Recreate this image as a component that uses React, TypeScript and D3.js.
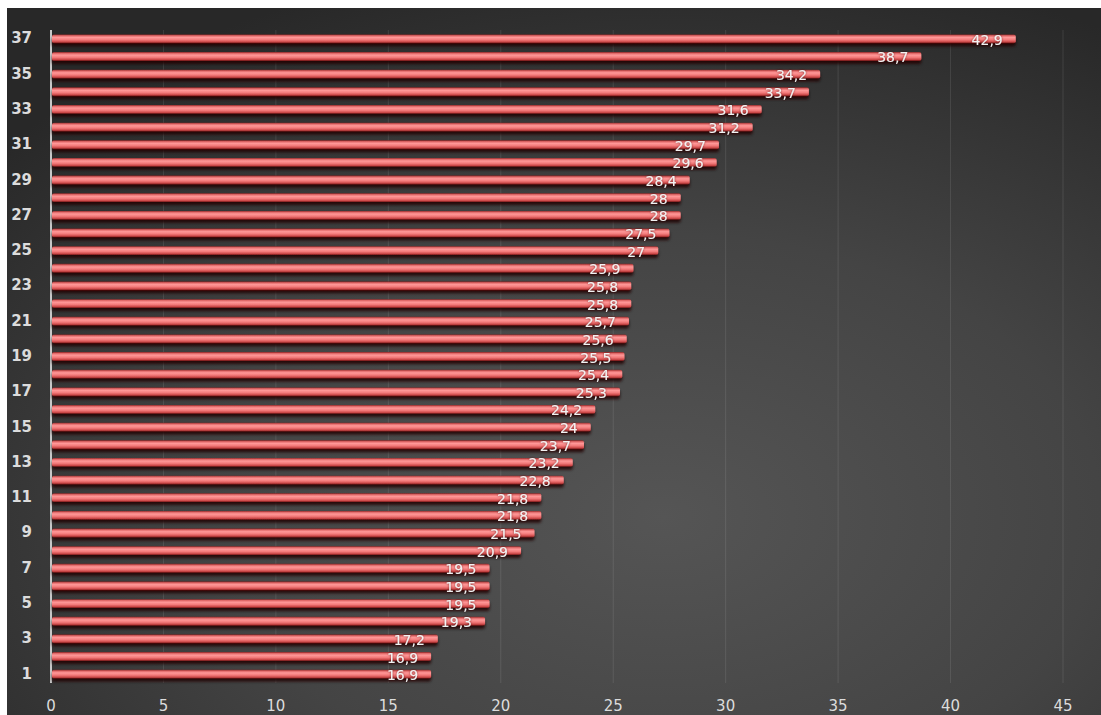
import React from "react";
import * as d3 from "d3";

const categories: number[] = d3.range(1, 38);
const values: number[] = [
  16.9, 16.9, 17.2, 19.3, 19.5, 19.5, 19.5, 20.9, 21.5, 21.8, 21.8, 22.8, 23.2,
  23.7, 24, 24.2, 25.3, 25.4, 25.5, 25.6, 25.7, 25.8, 25.8, 25.9, 27, 27.5, 28,
  28, 28.4, 29.6, 29.7, 31.2, 31.6, 33.7, 34.2, 38.7, 42.9,
];
const xTicks: number[] = [0, 5, 10, 15, 20, 25, 30, 35, 40, 45];
const yTickLabels: number[] = categories.filter((c) => c % 2 === 1);

const W = 1101;
const H = 715;
const frame = { x: 7, y: 8 };
const plot = { left: 51, right: 1063, top: 30, bottom: 683 };

export default function App() {
  const x = d3.scaleLinear().domain([0, 45]).range([plot.left, plot.right]);
  const y = d3
    .scaleBand<number>()
    .domain(categories)
    .range([plot.bottom, plot.top])
    .paddingInner(0.5)
    .paddingOuter(0.25);
  const bh = y.bandwidth();
  const fmt = (v: number) => String(v).replace(".", ",");
  const data = categories.map((c, i) => ({ c, v: values[i] }));

  return (
    <svg
      width={W}
      height={H}
      style={{ position: "fixed", left: 0, top: 0, display: "block" }}
    >
      <defs>
        <radialGradient id="bg" cx="0.6" cy="0.72" r="0.8">
          <stop offset="0" stopColor="#555555" />
          <stop offset="0.5" stopColor="#444444" />
          <stop offset="1" stopColor="#282828" />
        </radialGradient>
        <linearGradient id="bar" x1="0" y1="0" x2="0" y2="1">
          <stop offset="0" stopColor="#8a2424" />
          <stop offset="0.15" stopColor="#e06868" />
          <stop offset="0.35" stopColor="#ff9898" />
          <stop offset="0.6" stopColor="#f47c7c" />
          <stop offset="0.85" stopColor="#cc4848" />
          <stop offset="1" stopColor="#6a1414" />
        </linearGradient>
        <filter id="shadow" x="-5%" y="-100%" width="110%" height="300%">
          <feDropShadow dx="0" dy="3" stdDeviation="1.6" floodColor="#1a0000" floodOpacity="0.85" />
        </filter>
        <filter id="txtshadow" x="-20%" y="-50%" width="140%" height="200%">
          <feDropShadow dx="0" dy="0" stdDeviation="1" floodColor="#400" floodOpacity="0.7" />
        </filter>
      </defs>
      <rect x={0} y={0} width={W} height={H} fill="#ffffff" />
      <rect x={frame.x} y={frame.y} width={W - frame.x} height={H - frame.y} fill="url(#bg)" />

      {xTicks
        .filter((t) => t > 0)
        .map((t) => (
          <line
            key={"g" + t}
            x1={x(t)}
            x2={x(t)}
            y1={plot.top}
            y2={plot.bottom}
            stroke="#ffffff"
            strokeOpacity={0.1}
            strokeWidth={1}
          />
        ))}

      <line x1={plot.left} x2={plot.left} y1={plot.top} y2={plot.bottom} stroke="#c8c8c8" strokeWidth={2} />

      {data.map((d) => (
        <rect
          key={"b" + d.c}
          x={x(0) + 1}
          y={y(d.c)!}
          width={x(d.v) - x(0) - 1}
          height={bh}
          rx={2}
          fill="url(#bar)"
          filter="url(#shadow)"
        />
      ))}

      {data.map((d) => (
        <text
          key={"l" + d.c}
          x={x(d.v) - 13}
          y={y(d.c)! + bh / 2 + 2}
          textAnchor="end"
          dominantBaseline="middle"
          fontFamily="DejaVu Sans, sans-serif"
          fontSize={14}
          fill="#f2f2f2"
          filter="url(#txtshadow)"
        >
          {fmt(d.v)}
        </text>
      ))}

      {yTickLabels.map((c) => (
        <text
          key={"y" + c}
          x={32}
          y={y(c)! + bh / 2}
          textAnchor="end"
          dominantBaseline="middle"
          fontFamily="DejaVu Sans, sans-serif"
          fontSize={15}
          fontWeight={600}
          fill="#dcdcdc"
        >
          {c}
        </text>
      ))}

      {xTicks.map((t) => (
        <text
          key={"x" + t}
          x={x(t)}
          y={706}
          textAnchor="middle"
          dominantBaseline="middle"
          fontFamily="DejaVu Sans, sans-serif"
          fontSize={15}
          fill="#dcdcdc"
        >
          {t}
        </text>
      ))}
    </svg>
  );
}
